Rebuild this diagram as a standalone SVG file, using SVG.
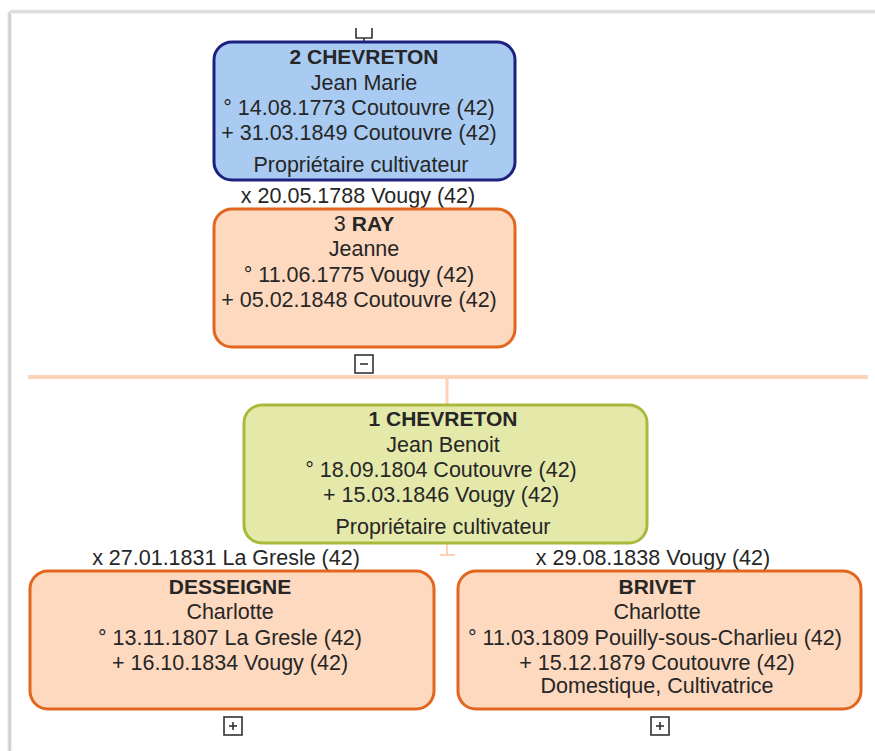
<svg xmlns="http://www.w3.org/2000/svg" width="875" height="751" viewBox="0 0 875 751">
<defs>
<linearGradient id="shL" x1="0" y1="0" x2="1" y2="0"><stop offset="0" stop-color="#ffffff"/><stop offset="0.5" stop-color="#c8c8c8"/><stop offset="1" stop-color="#f4f4f4"/></linearGradient>
<linearGradient id="shT" x1="0" y1="0" x2="0" y2="1"><stop offset="0" stop-color="#ffffff"/><stop offset="0.5" stop-color="#d6d6d6"/><stop offset="1" stop-color="#f6f6f6"/></linearGradient>
</defs>
<style>
text{font-family:"Liberation Sans",Arial,sans-serif;font-size:21.5px;fill:#262626;text-anchor:middle}
.b{font-weight:bold;font-size:21px}
.blue{fill:#a9cbf2;stroke:#1c2180;stroke-width:3}
.peach{fill:#fdd9bf;stroke:#e2661f;stroke-width:3}
.green{fill:#e4e9aa;stroke:#a9b93b;stroke-width:3}
.conn{stroke:#fcd3b6;fill:none}
.btn{fill:#fff;stroke:#333;stroke-width:1.6}
.sign{stroke:#333;stroke-width:1.6}
</style>
<rect width="875" height="751" fill="#fff"/>
<rect x="7" y="12" width="5" height="739" fill="url(#shL)"/>
<rect x="10" y="9" width="865" height="5" fill="url(#shT)"/>
<g id="connectors">
<line class="conn" x1="28" y1="377" x2="868" y2="377" stroke-width="4"/>
<line class="conn" x1="447" y1="377" x2="447" y2="405" stroke-width="3"/>
<line class="conn" x1="447" y1="543" x2="447" y2="555" stroke-width="2"/>
<line class="conn" x1="440" y1="555" x2="455" y2="555" stroke-width="2"/>
<path d="M356,28 V38 H372 V28" fill="none" stroke="#333" stroke-width="1.6"/>
<line x1="364" y1="38" x2="364" y2="42" stroke="#333" stroke-width="1.6"/>
</g>
<g id="node2">
<rect class="blue" x="214" y="42" width="301" height="138" rx="18"/>
<text class="b" x="364" y="64">2 CHEVRETON</text>
<text x="364" y="90">Jean Marie</text>
<text x="359" y="115">° 14.08.1773 Coutouvre (42)</text>
<text x="359" y="140">+ 31.03.1849 Coutouvre (42)</text>
<text x="361" y="172">Propriétaire cultivateur</text>
</g>
<g id="marriage23"><text x="358" y="203">x 20.05.1788 Vougy (42)</text></g>
<g id="node3">
<rect class="peach" x="214" y="209" width="301" height="138" rx="18"/>
<text x="364" y="231">3 <tspan class="b">RAY</tspan></text>
<text x="364" y="256">Jeanne</text>
<text x="359" y="282">° 11.06.1775 Vougy (42)</text>
<text x="359" y="307">+ 05.02.1848 Coutouvre (42)</text>
</g>
<g id="collapse3">
<rect class="btn" x="355" y="355" width="18" height="18"/>
<line class="sign" x1="360" y1="364" x2="368" y2="364"/>
</g>
<g id="node1">
<rect class="green" x="244" y="405" width="403" height="138" rx="18"/>
<text class="b" x="443" y="426">1 CHEVRETON</text>
<text x="443" y="452">Jean Benoit</text>
<text x="441" y="477">° 18.09.1804 Coutouvre (42)</text>
<text x="441" y="502">+ 15.03.1846 Vougy (42)</text>
<text x="443" y="534">Propriétaire cultivateur</text>
</g>
<g id="marriage1a"><text x="226" y="565">x 27.01.1831 La Gresle (42)</text></g>
<g id="marriage1b"><text x="653" y="565">x 29.08.1838 Vougy (42)</text></g>
<g id="nodeDesseigne">
<rect class="peach" x="30" y="571" width="404" height="138" rx="18"/>
<text class="b" x="230" y="594">DESSEIGNE</text>
<text x="230" y="619">Charlotte</text>
<text x="230" y="645">° 13.11.1807 La Gresle (42)</text>
<text x="230" y="670">+ 16.10.1834 Vougy (42)</text>
</g>
<g id="nodeBrivet">
<rect class="peach" x="458" y="571" width="403" height="138" rx="18"/>
<text class="b" x="657" y="594">BRIVET</text>
<text x="657" y="619">Charlotte</text>
<text x="655" y="645">° 11.03.1809 Pouilly-sous-Charlieu (42)</text>
<text x="657" y="670">+ 15.12.1879 Coutouvre (42)</text>
<text x="657" y="693">Domestique, Cultivatrice</text>
</g>
<g id="expandDesseigne">
<rect class="btn" x="224" y="717" width="18" height="18"/>
<line class="sign" x1="229" y1="726" x2="237" y2="726"/>
<line class="sign" x1="233" y1="722" x2="233" y2="730"/>
</g>
<g id="expandBrivet">
<rect class="btn" x="651" y="717" width="18" height="18"/>
<line class="sign" x1="656" y1="726" x2="664" y2="726"/>
<line class="sign" x1="660" y1="722" x2="660" y2="730"/>
</g>
</svg>
